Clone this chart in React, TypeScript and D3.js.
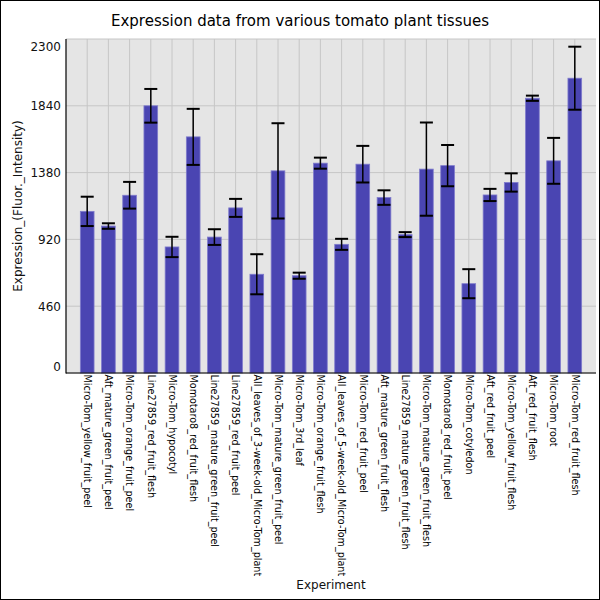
import * as d3 from "d3";

// tissue names, left to right as drawn
const tissues = [
  "Micro-Tom_yellow_fruit_peel",
  "Aft_mature_green_fruit_peel",
  "Micro-Tom_orange_fruit_peel",
  "Line27859_red_fruit_flesh",
  "Micro-Tom_hypocotyl",
  "Momotaro8_red_fruit_flesh",
  "Line27859_mature_green_fruit_peel",
  "Line27859_red_fruit_peel",
  "All_leaves_of_3-week-old_Micro-Tom_plant",
  "Micro-Tom_mature_green_fruit_peel",
  "Micro-Tom_3rd_leaf",
  "Micro-Tom_orange_fruit_flesh",
  "All_leaves_of_5-week-old_Micro-Tom_plant",
  "Micro-Tom_red_fruit_peel",
  "Aft_mature_green_fruit_flesh",
  "Line27859_mature_green_fruit_flesh",
  "Micro-Tom_mature_green_fruit_flesh",
  "Momotaro8_red_fruit_peel",
  "Micro-Tom_cotyledon",
  "Aft_red_fruit_peel",
  "Micro-Tom_yellow_fruit_flesh",
  "Aft_red_fruit_flesh",
  "Micro-Tom_root",
  "Micro-Tom_red_fruit_flesh",
];

const expression = [
  1113, 1012, 1224, 1840, 868, 1626, 936, 1137, 680, 1392, 670, 1445,
  886, 1438, 1208, 953, 1404, 1428, 615, 1226, 1312, 1892, 1461, 2030,
];

const stdev = [
  101, 19, 92, 116, 70, 193, 54, 62, 138, 328, 21, 38,
  38, 126, 50, 17, 321, 142, 100, 42, 63, 18, 158, 217,
];

const yTicks = [0, 460, 920, 1380, 1840, 2300];

const W = 600;
const H = 600;
const left = 66;
const right = 596;
const top = 39;
const bottom = 373;
const font = "DejaVu Sans, sans-serif";

export default function App() {
  const x = d3.scalePoint<string>().domain(tissues).range([left, right]).padding(1);
  const y = d3.scaleLinear().domain([0, 2300]).range([bottom, top]);
  const barW = 13.7;
  const capW = 13;

  return (
    <svg
      width={W}
      height={H}
      style={{ position: "absolute", left: 0, top: 0, fontFamily: font }}
    >
      <rect x={0.5} y={0.5} width={W - 1} height={H - 1} fill="#fff" stroke="#000" />
      <rect x={left} y={top} width={right - left} height={bottom - top} fill="#e5e5e5" />

      {yTicks.map((t) => (
        <line key={"gy" + t} x1={left} x2={right} y1={y(t)} y2={y(t)} stroke="#c6c6c6" strokeWidth={1} />
      ))}
      {tissues.map((t) => (
        <line key={"gx" + t} x1={x(t)} x2={x(t)} y1={top} y2={bottom} stroke="#c6c6c6" strokeWidth={1} />
      ))}

      {tissues.map((t, i) => (
        <rect
          key={"b" + t}
          x={(x(t) ?? 0) - barW / 2}
          y={y(expression[i])}
          width={barW}
          height={bottom - y(expression[i])}
          fill="#4a45b2"
          stroke="#7f7bcc"
          strokeWidth={0.8}
        />
      ))}

      {tissues.map((t, i) => {
        const cx = x(t) ?? 0;
        const hi = y(expression[i] + stdev[i]);
        const lo = y(expression[i] - stdev[i]);
        return (
          <g key={"e" + t} stroke="#000">
            <line x1={cx} x2={cx} y1={hi} y2={lo} strokeWidth={1.5} />
            <line x1={cx - capW / 2} x2={cx + capW / 2} y1={hi} y2={hi} strokeWidth={2} />
            <line x1={cx - capW / 2} x2={cx + capW / 2} y1={lo} y2={lo} strokeWidth={2} />
          </g>
        );
      })}

      <line x1={left} x2={left} y1={top} y2={bottom + 0.5} stroke="#000" strokeWidth={1.2} />
      <line x1={left} x2={right} y1={bottom} y2={bottom} stroke="#000" strokeWidth={1.2} />

      {yTicks.map((t, i) => {
        let ty = y(t) + 4.5;
        if (i === 0) ty = y(t) - 2;
        if (i === yTicks.length - 1) ty = y(t) + 12;
        return (
          <text key={"yt" + t} x={61} y={ty} textAnchor="end" fontSize={12} fill="#111">
            {t}
          </text>
        );
      })}

      {tissues.map((t) => (
        <text
          key={"xt" + t}
          transform={`translate(${(x(t) ?? 0) - 3.2},${bottom + 1.5}) rotate(90)`}
          fontSize={9.6}
          fill="#000"
        >
          {t}
        </text>
      ))}

      <text x={300} y={26} textAnchor="middle" fontSize={15} fill="#000">
        Expression data from various tomato plant tissues
      </text>
      <text
        transform={`translate(22,${(top + bottom) / 2}) rotate(-90)`}
        textAnchor="middle"
        fontSize={12}
        fill="#111"
      >
        Expression_(Fluor._Intensity)
      </text>
      <text x={(left + right) / 2} y={589} textAnchor="middle" fontSize={12} fill="#111">
        Experiment
      </text>
    </svg>
  );
}
